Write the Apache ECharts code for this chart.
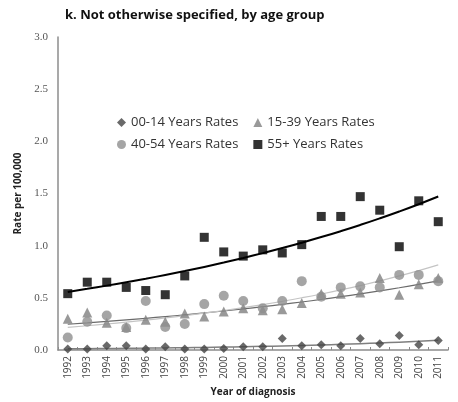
<!DOCTYPE html>
<html>
<head>
<meta charset="utf-8">
<script src="https://cdn.jsdelivr.net/npm/echarts@6/dist/echarts.min.js"></script>
<style>
  html, body { margin: 0; padding: 0; background: #fff; }
  #chart { width: 458px; height: 402px; }
</style>
</head>
<body>
<div id="chart"></div>
<script>
// Year of diagnosis
var years = ['1992','1993','1994','1995','1996','1997','1998','1999','2000','2001',
             '2002','2003','2004','2005','2006','2007','2008','2009','2010','2011'];

// Rates per 100,000 by age group
var rates0014 = [0.01,0.01,0.04,0.04,0.01,0.03,0.01,0.01,0.015,0.03,
                 0.03,0.11,0.04,0.05,0.04,0.11,0.06,0.14,0.05,0.09];
var rates1539 = [0.30,0.36,0.26,0.22,0.29,0.27,0.35,0.32,0.37,0.40,
                 0.38,0.39,0.45,0.54,0.54,0.55,0.69,0.53,0.63,0.69];
var rates4054 = [0.12,0.27,0.33,0.21,0.47,0.22,0.25,0.44,0.52,0.47,
                 0.40,0.47,0.66,0.51,0.60,0.61,0.60,0.72,0.72,0.66];
var rates55p  = [0.54,0.65,0.65,0.60,0.57,0.53,0.71,1.08,0.94,0.90,
                 0.96,0.93,1.01,1.28,1.28,1.47,1.34,0.99,1.43,1.23];

var yTicks = [0, 0.5, 1.0, 1.5, 2.0, 2.5, 3.0];

// Exponential least-squares trend (fit on log of the rates)
function expTrend(vals) {
  var n = vals.length, sx = 0, sy = 0, sxx = 0, sxy = 0;
  vals.forEach(function (v, i) {
    var ly = Math.log(v);
    sx += i; sy += ly; sxx += i * i; sxy += i * ly;
  });
  var b = (n * sxy - sx * sy) / (n * sxx - sx * sx);
  var a = (sy - b * sx) / n;
  return vals.map(function (v, i) { return +Math.exp(a + b * i).toFixed(4); });
}

var chart = echarts.init(document.getElementById('chart'), null, { renderer: 'canvas' });

var labelFont = 'Open Sans';

function trendSeries(vals, color, width) {
  return {
    type: 'line', data: expTrend(vals), symbol: 'none', smooth: true,
    lineStyle: { color: color, width: width }, silent: true, z: 1
  };
}

function pointSeries(name, vals, symbol, size, color) {
  return {
    name: name, type: 'scatter', data: vals, symbol: symbol, symbolSize: size,
    itemStyle: { color: color }, z: 3
  };
}

chart.setOption({
  backgroundColor: '#fff',
  animation: false,
  title: {
    text: 'k. Not otherwise specified, by age group',
    left: 60, top: 4,
    textStyle: { fontFamily: labelFont, fontWeight: 'bold', fontSize: 13, color: '#111' }
  },
  legend: [{
    data: [
      { name: '00-14 Years Rates', icon: 'diamond' },
      { name: '15-39 Years Rates', icon: 'triangle' }
    ],
    left: 112, top: 111, itemWidth: 9, itemHeight: 9, itemGap: 15,
    textStyle: { fontFamily: labelFont, fontSize: 13, color: '#333' }
  }, {
    data: [
      { name: '40-54 Years Rates', icon: 'circle' },
      { name: '55+ Years Rates', icon: 'rect' }
    ],
    left: 112, top: 133, itemWidth: 9, itemHeight: 9, itemGap: 15,
    textStyle: { fontFamily: labelFont, fontSize: 13, color: '#333' }
  }],
  grid: { left: 58, right: 10, top: 37, bottom: 48 },
  xAxis: {
    type: 'category', data: years, boundaryGap: true,
    name: 'Year of diagnosis', nameLocation: 'middle', nameGap: 37,
    nameTextStyle: { fontFamily: labelFont, fontWeight: 'bold', fontSize: 10, color: '#222' },
    axisLine: { lineStyle: { color: '#8c8c8c', width: 1.5 } },
    axisTick: { show: true, inside: true, length: 3, interval: 0, lineStyle: { color: '#8c8c8c' } },
    axisLabel: { rotate: 90, interval: 0, fontFamily: labelFont, fontSize: 10, color: '#444', margin: 6 },
    splitLine: { show: false }
  },
  yAxis: {
    type: 'value', min: 0, max: 3, interval: 0.5,
    name: 'Rate per 100,000', nameLocation: 'middle', nameGap: 28,
    nameTextStyle: { fontFamily: labelFont, fontWeight: 'bold', fontSize: 10, color: '#222' },
    axisLine: { show: true, lineStyle: { color: '#8c8c8c', width: 1.5 } },
    axisTick: { show: false },
    axisLabel: {
      fontFamily: 'Liberation Serif', fontSize: 11, color: '#555', margin: 10,
      formatter: function (v) { return yTicks.indexOf(v) >= 0 ? v.toFixed(1) : ''; }
    },
    splitLine: { show: false }
  },
  series: [
    trendSeries(rates0014, '#7f7f7f', 1.5),
    trendSeries(rates1539, '#6b6b6b', 1.2),
    trendSeries(rates4054, '#c4c4c4', 1.2),
    trendSeries(rates55p, '#000000', 2),
    pointSeries('15-39 Years Rates', rates1539, 'triangle', 10, '#808080'),
    pointSeries('40-54 Years Rates', rates4054, 'circle', 10, '#8f8f8f'),
    pointSeries('00-14 Years Rates', rates0014, 'diamond', 9, '#444444'),
    pointSeries('55+ Years Rates', rates55p, 'rect', 9, '#000000')
  ]
});
</script>
</body>
</html>
